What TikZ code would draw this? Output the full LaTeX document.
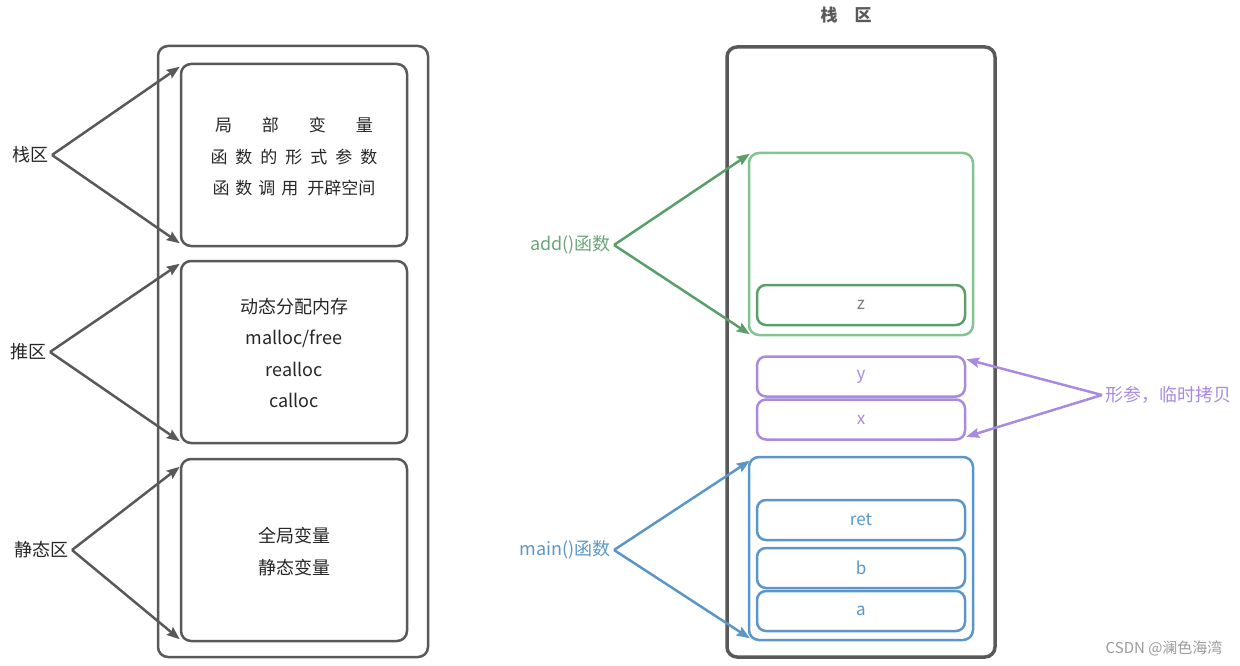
\documentclass[tikz,border=0pt]{standalone}
\usepackage{fontspec}
\setmainfont{Noto Sans CJK SC}
\usetikzlibrary{arrows.meta,calc}
\definecolor{dk}{HTML}{595959}
\definecolor{gnl}{HTML}{82C48F}
\definecolor{gnd}{HTML}{5A9E6A}
\definecolor{gnt}{HTML}{6AA57A}
\definecolor{pp}{HTML}{A88AE0}
\definecolor{bl}{HTML}{5A96C8}
\definecolor{wm}{HTML}{9A9A9A}
\tikzset{
  box/.style={draw, rounded corners=10pt, inner sep=0pt},
  cell/.style={draw, rounded corners=9pt, inner sep=0pt, minimum width=208pt, minimum height=40pt, font=\fontsize{17}{18}\selectfont},
  lab/.style={inner sep=3pt, font=\fontsize{18}{20}\selectfont},
  arr/.style={line width=2.5pt, -{Stealth[length=13pt,width=10pt,inset=2pt]}},
  boxtext/.style={align=center, font=\fontsize{18}{31.5}\selectfont, text=black!85}
}
\begin{document}
\begin{tikzpicture}[x=1pt,y=-1pt]
\useasboundingbox (0,0) rectangle (1240,666);
% ---------------- left ----------------
\node[box, draw=dk, line width=2.5pt, minimum width=270pt, minimum height=611pt] (outer) at (293,351.5) {};
\node[box, draw=dk, line width=2.5pt, minimum width=226pt, minimum height=182pt] (b1) at (294,155) {};
\node[box, draw=dk, line width=2.5pt, minimum width=226pt, minimum height=182pt] (b2) at (294,352) {};
\node[box, draw=dk, line width=2.5pt, minimum width=226pt, minimum height=182pt] (b3) at (294,550) {};
\node[boxtext, font=\fontsize{17}{31.5}\selectfont] (t1) at (294,157) {局\hspace{30pt}部\hspace{30pt}变\hspace{30pt}量\\函\hspace{8pt}数\hspace{8pt}的\hspace{8pt}形\hspace{8pt}式\hspace{8pt}参\hspace{8pt}数\\函\hspace{6pt}数\hspace{6pt}调\hspace{6pt}用\hspace{9pt}开辟空间};
\node[boxtext] (t2) at (294,353) {动态分配内存\\malloc/free\\realloc\\calloc};
\node[boxtext] (t3) at (294,551.5) {全局变量\\静态变量};
\node[lab, anchor=east, text=black!85] (l1) at (52,155) {栈区};
\node[lab, anchor=east, text=black!85] (l2) at (50,352) {推区};
\node[lab, anchor=east, text=black!85] (l3) at (72,550) {静态区};
\draw[arr, draw=dk] (l1.east) -- ($(b1.north west)+(0,4)$);
\draw[arr, draw=dk] (l1.east) -- ($(b1.south west)+(0,-4)$);
\draw[arr, draw=dk] (l2.east) -- ($(b2.north west)+(0,4)$);
\draw[arr, draw=dk] (l2.east) -- ($(b2.south west)+(0,-3)$);
\draw[arr, draw=dk] (l3.east) -- ($(b3.north west)+(0,9)$);
\draw[arr, draw=dk] (l3.east) -- ($(b3.south west)+(0,-3)$);
% ---------------- right ----------------
\node[font=\bfseries\fontsize{17}{18}\selectfont, text=dk] (title) at (846,15) {栈\hspace{17pt}区};
\node[box, draw=dk, line width=3.5pt, minimum width=268pt, minimum height=610pt] (stack) at (861,352) {};
\node[box, draw=gnl, line width=2.5pt, minimum width=224pt, minimum height=182pt] (addf) at (861,244) {};
\node[cell, draw=gnd, line width=2.5pt, text=gray] (z) at (861,305) {z};
\node[cell, draw=pp, line width=2.5pt, text=pp] (y) at (861,376.5) {y};
\node[cell, draw=pp, line width=2.5pt, text=pp] (x) at (861,419.5) {x};
\node[box, draw=bl, line width=2.5pt, minimum width=224pt, minimum height=183pt] (mainf) at (861,548.5) {};
\node[cell, draw=bl, line width=2.5pt, text=bl] (ret) at (861,520) {ret};
\node[cell, draw=bl, line width=2.5pt, text=bl] (b) at (861,568) {b};
\node[cell, draw=bl, line width=2.5pt, text=bl] (a) at (861,611) {a};
\node[lab, anchor=east, text=gnt] (ladd) at (614,245) {add()函数};
\node[lab, anchor=east, text=bl] (lmain) at (614,550) {main()函数};
\node[lab, anchor=west, text=pp] (lpar) at (1102,395) {形参，临时拷贝};
\draw[arr, draw=gnd] (ladd.east) -- ($(addf.north west)+(2,2)$);
\draw[arr, draw=gnd] (ladd.east) -- ($(addf.south west)+(2,-2)$);
\draw[arr, draw=bl] (lmain.east) -- ($(mainf.north west)+(2,5)$);
\draw[arr, draw=bl] (lmain.east) -- ($(mainf.south west)+(2,-3)$);
\draw[arr, draw=pp] (lpar.west) -- ($(y.north east)+(0,4)$);
\draw[arr, draw=pp] (lpar.west) -- ($(x.south east)+(0,-4)$);
\node[anchor=east, text=wm, font=\fontsize{15}{16}\selectfont] (wmk) at (1226,648) {CSDN @澜色海湾};
\end{tikzpicture}
\end{document}
